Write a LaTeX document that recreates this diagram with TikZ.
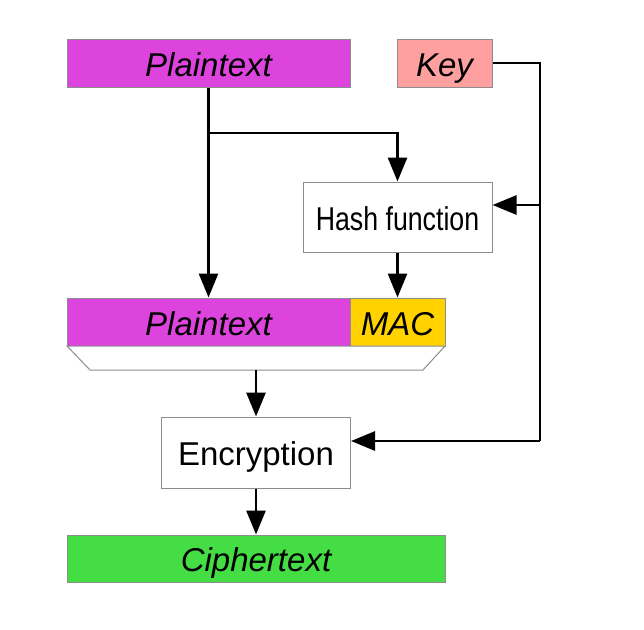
\documentclass[tikz,border=0pt]{standalone}
\usepackage{fontspec}
\usepackage{graphicx}
\setmainfont{Liberation Sans}
\usetikzlibrary{arrows.meta}
\definecolor{plainc}{HTML}{DD44DD}
\definecolor{keyc}{HTML}{FFA0A0}
\definecolor{macc}{HTML}{FFD200}
\definecolor{cipherc}{HTML}{44DD44}
\definecolor{edgec}{HTML}{8C8C8C}
\tikzset{
  box/.style={draw=edgec, line width=1pt, inner sep=0pt, text height=26.6pt, text depth=0pt, font=\fontsize{33}{38}\selectfont},
  arr/.style={line width=2.8pt, -{Triangle[length=24pt,width=19pt]}},
  conn/.style={line width=2.8pt}
}
\begin{document}
\begin{tikzpicture}[x=1pt,y=-1pt]
\useasboundingbox[fill=white] (0,0) rectangle (644,629);
\node[box, fill=plainc, minimum width=283pt, minimum height=48pt] (pt) at (208.5,63) {\itshape Plaintext};
\node[box, fill=keyc, minimum width=95pt, minimum height=48pt] (key) at (444.5,63) {\itshape Key};
\node[box, fill=white, minimum width=189pt, minimum height=70pt] (hash) at (397.5,217) {\scalebox{0.81}[1]{Hash function}};
\node[box, fill=plainc, minimum width=283pt, minimum height=48pt] (pt2) at (208.5,322) {\itshape Plaintext};
\node[box, fill=macc, minimum width=95pt, minimum height=48pt] (mac) at (397.5,322) {\itshape MAC};
\draw[draw=edgec, line width=1pt, fill=white] (67,346) -- (445,346) -- (423,370) -- (90,370) -- cycle;
\coordinate (trapb) at (256,370);
\node[box, fill=white, minimum width=189pt, minimum height=71pt] (enc) at (256,452.5) {Encryption};
\node[box, fill=cipherc, minimum width=378pt, minimum height=47pt] (ciph) at (256,558.5) {\itshape Ciphertext};
% connectors
\coordinate (br) at (208.5,133);
\coordinate (kh) at (540,205);
\coordinate (ke) at (540,441);
\draw[arr] (pt.south) -- (pt2.north);
\draw[arr] (br) -| (hash.north);
\draw[conn] (key.east) -| (ke);
\draw[arr] (kh) -- (kh -| hash.east);
\draw[arr] (ke) -- (ke -| enc.east);
\draw[arr] (hash.south) -- (mac.north);
\draw[arr] (trapb) -- (enc.north);
\draw[arr] (enc.south) -- (ciph.north);
\end{tikzpicture}
\end{document}
